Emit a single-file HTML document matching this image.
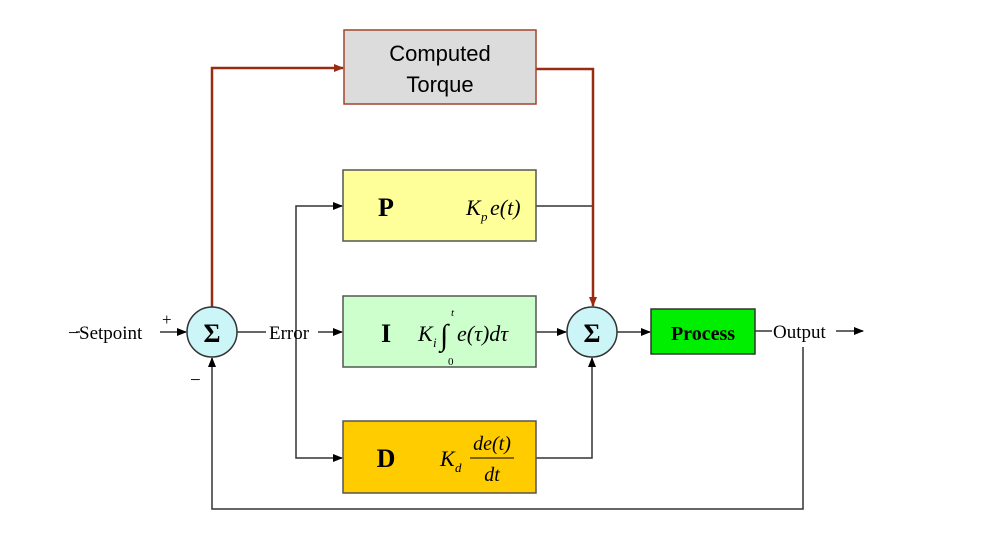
<!DOCTYPE html>
<html><head><meta charset="utf-8"><style>
body{margin:0;background:#fff}
svg text{font-family:"Liberation Serif",serif}
</style></head><body>
<svg width="1008" height="547" viewBox="0 0 1008 547" xmlns="http://www.w3.org/2000/svg">
<defs>
<marker id="a" markerWidth="10" markerHeight="8" refX="9" refY="4" orient="auto" markerUnits="userSpaceOnUse"><path d="M0,0L10,4L0,8z" fill="#000"/></marker>
<marker id="r" markerWidth="10" markerHeight="8" refX="9" refY="4" orient="auto" markerUnits="userSpaceOnUse"><path d="M0,0L10,4L0,8z" fill="#9a2a12"/></marker>
</defs>
<g stroke="#333" stroke-width="1.5" fill="none">
<line x1="76" y1="332" x2="80" y2="332"/>
<line x1="160" y1="332" x2="186" y2="332" marker-end="url(#a)"/>
<line x1="237" y1="332" x2="266" y2="332"/>
<line x1="318" y1="332" x2="342" y2="332" marker-end="url(#a)"/>
<polyline points="296,320 296,206 342,206" marker-end="url(#a)"/>
<polyline points="296,344 296,458 342,458" marker-end="url(#a)"/>
<line x1="296" y1="320" x2="296" y2="344"/>
<polyline points="536,206 593,206"/>
<line x1="536" y1="332" x2="566" y2="332" marker-end="url(#a)"/>
<polyline points="536,458 592,458 592,358" marker-end="url(#a)"/>
<line x1="617" y1="332" x2="650" y2="332" marker-end="url(#a)"/>
<line x1="755" y1="331" x2="772" y2="331"/>
<line x1="836" y1="331" x2="863" y2="331" marker-end="url(#a)"/>
<polyline points="803,347 803,509 212,509 212,358" marker-end="url(#a)"/>
</g>
<g stroke="#9a2a12" stroke-width="2.5" fill="none">
<polyline points="212,307 212,68 343,68" marker-end="url(#r)"/>
<polyline points="536,69 593,69 593,306" marker-end="url(#r)"/>
</g>
<rect x="344" y="30" width="192" height="74" fill="#dcdcdc" stroke="#a0452c" stroke-width="1.5"/>
<text x="440" y="61" font-size="22" text-anchor="middle" style="font-family:'Liberation Sans',sans-serif">Computed</text>
<text x="440" y="92" font-size="22" text-anchor="middle" style="font-family:'Liberation Sans',sans-serif">Torque</text>
<rect x="343" y="170" width="193" height="71" fill="#ffff99" stroke="#555" stroke-width="1.5"/>
<rect x="343" y="296" width="193" height="71" fill="#ccffcc" stroke="#555" stroke-width="1.5"/>
<rect x="343" y="421" width="193" height="72" fill="#ffcc00" stroke="#555" stroke-width="1.5"/>
<rect x="651" y="309" width="104" height="45" fill="#00ee00" stroke="#333" stroke-width="1.5"/>
<circle cx="212" cy="332" r="25" fill="#ccf5f8" stroke="#333" stroke-width="1.5"/>
<circle cx="592" cy="332" r="25" fill="#ccf5f8" stroke="#333" stroke-width="1.5"/>
<text x="212" y="342" font-size="26" font-weight="bold" text-anchor="middle">Σ</text>
<text x="592" y="342" font-size="26" font-weight="bold" text-anchor="middle">Σ</text>
<text x="79" y="339" font-size="19">Setpoint</text>
<text x="68" y="339" font-size="19">−</text>
<text x="162" y="325" font-size="17">+</text>
<text x="190" y="386" font-size="19">−</text>
<text x="269" y="339" font-size="19">Error</text>
<text x="773" y="338" font-size="19">Output</text>
<text x="703" y="340" font-size="20" font-weight="bold" text-anchor="middle">Process</text>
<text x="386" y="216" font-size="26" font-weight="bold" text-anchor="middle">P</text>
<text x="386" y="342" font-size="26" font-weight="bold" text-anchor="middle">I</text>
<text x="386" y="467" font-size="26" font-weight="bold" text-anchor="middle">D</text>
<text x="466" y="215" font-size="22" font-style="italic">K</text>
<text x="481" y="221" font-size="13" font-style="italic">p</text>
<text x="490" y="215" font-size="22" font-style="italic">e(t)</text>
<text x="418" y="341" font-size="22" font-style="italic">K</text>
<text x="433" y="347" font-size="13" font-style="italic">i</text>
<text x="440" y="345" font-size="30">∫</text>
<text x="451" y="316" font-size="11" font-style="italic">t</text>
<text x="448" y="365" font-size="11">0</text>
<text x="457" y="341" font-size="22" font-style="italic">e(τ)dτ</text>
<text x="440" y="466" font-size="22" font-style="italic">K</text>
<text x="455" y="472" font-size="13" font-style="italic">d</text>
<text x="492" y="450" font-size="20" font-style="italic" text-anchor="middle">de(t)</text>
<line x1="470" y1="458" x2="514" y2="458" stroke="#000" stroke-width="1"/>
<text x="492" y="481" font-size="20" font-style="italic" text-anchor="middle">dt</text>
</svg>
</body></html>
